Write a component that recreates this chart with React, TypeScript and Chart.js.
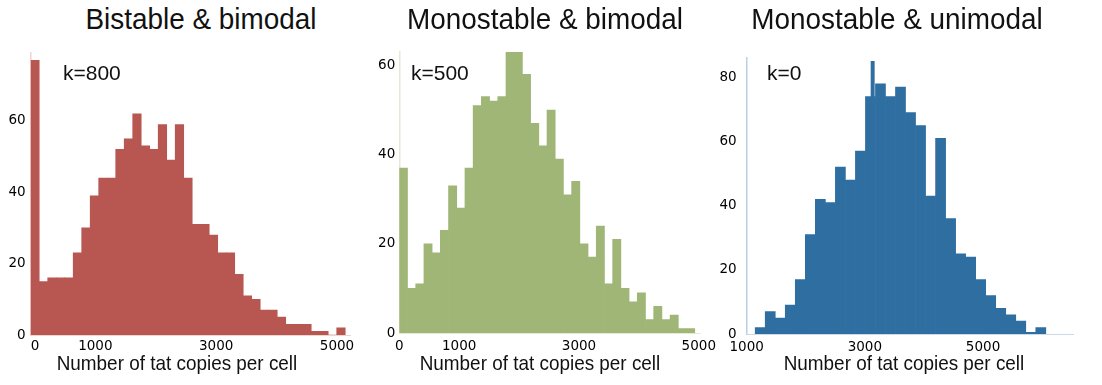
import React, { useEffect, useRef } from 'react';
import { Chart, registerables } from 'chart.js';

Chart.register(...registerables);

// ---------- text ----------
const panelTitles = ['Bistable & bimodal', 'Monostable & bimodal', 'Monostable & unimodal'];
const kLabels = ['k=800', 'k=500', 'k=0'];
const xAxisTitle = 'Number of tat copies per cell';

// ---------- panel 1 : k=800 ----------
const counts800 = [77, 15, 16, 16, 16, 23, 30, 39, 44, 44, 52, 55, 62, 53, 52, 59, 49, 59, 44, 31, 31, 28, 23, 23, 17, 11, 10, 7, 7, 5, 3, 3, 3, 1, 1, 0, 2];
const binStart800 = -70;
const binWidth800 = 140.7;
const xTicks800 = [0, 1000, 3000, 5000];
const yTicks800 = [0, 20, 40, 60];

// ---------- panel 2 : k=500 ----------
const counts500 = [37, 10, 11, 20, 18, 23, 33, 28, 37, 51, 53, 52, 53, 63, 63, 58, 47, 42, 50, 39, 31, 34, 20, 17, 24, 11, 21, 10, 7, 9, 3, 6, 3, 4, 1, 1];
const binStart500 = 0;
const binWidth500 = 137;
const xTicks500 = [0, 1000, 3000, 5000];
const yTicks500 = [0, 20, 40, 60];

// ---------- panel 3 : k=0 ----------
const counts0 = [2, 7, 5, 9, 17, 31, 42, 41, 52, 48, 57, 74, 78, 74, 77, 69, 65, 43, 61, 36, 25, 24, 17, 12, 8, 6, 4, 0.5, 2];
const binStart0 = 1144;
const binWidth0 = 169.6;
const spikeX0 = [3132];
const spikeY0 = [85];
const xTicks0 = [1000, 3000, 5000];
const yTicks0 = [0, 20, 40, 60, 80];

type PanelProps = {
  left: number;
  width: number;
  counts: number[];
  binStart: number;
  binWidth: number;
  spikeX?: number[];
  spikeY?: number[];
  xMin: number;
  xMax: number;
  yMax: number;
  xTicks: number[];
  yTicks: number[];
  color: string;
  yAxisColor: string;
  xAxisColor: string;
  yWidth: number;
  padRight: number;
  xHeight: number;
  yTickPad: number;
  xTickPad: number;
};

const TOP = 40;
const HEIGHT = 320;
const tickFont = { family: "'DejaVu Sans', sans-serif", size: 13.5 };

function HistPanel(p: PanelProps) {
  const ref = useRef<HTMLCanvasElement>(null);
  useEffect(() => {
    if (!ref.current) return;
    const centers = p.counts.map((_, i) => p.binStart + (i + 0.5) * p.binWidth);
    const datasets: any[] = [
      {
        data: p.counts.map((c, i) => ({ x: centers[i], y: c })),
        backgroundColor: p.color,
        borderWidth: 0,
        barPercentage: 1,
        categoryPercentage: 1,
        grouped: false,
        xAxisID: 'x',
        yAxisID: 'y',
      },
    ];
    if (p.spikeX && p.spikeY) {
      datasets.push({
        data: p.spikeX.map((x, i) => ({ x, y: p.spikeY![i] })),
        backgroundColor: p.color,
        borderWidth: 0,
        barThickness: 3.3,
        grouped: false,
        xAxisID: 'x2',
        yAxisID: 'y',
      });
    }
    const chart = new Chart(ref.current, {
      type: 'bar',
      data: { datasets },
      options: {
        animation: false,
        responsive: false,
        events: [],
        layout: { padding: { left: 0, top: 8.3, right: p.padRight, bottom: 0 } },
        plugins: { legend: { display: false }, tooltip: { enabled: false }, title: { display: false } },
        scales: {
          x: {
            type: 'linear',
            min: p.xMin,
            max: p.xMax,
            offset: false,
            grid: { display: false, drawTicks: false },
            border: { display: true, color: p.xAxisColor, width: 1 },
            afterBuildTicks: (s: any) => {
              s.ticks = p.xTicks.map((v) => ({ value: v }));
            },
            afterFit: (s: any) => {
              s.height = p.xHeight;
            },
            ticks: {
              autoSkip: false,
              maxRotation: 0,
              minRotation: 0,
              padding: p.xTickPad,
              font: tickFont,
              color: '#000',
              callback: (v: any) => String(v),
            },
          },
          x2: {
            type: 'linear',
            display: false,
            min: p.xMin,
            max: p.xMax,
            offset: false,
          },
          y: {
            type: 'linear',
            min: 0,
            max: p.yMax,
            grid: { display: false, drawTicks: false },
            border: { display: true, color: p.yAxisColor, width: 1.5 },
            afterBuildTicks: (s: any) => {
              s.ticks = p.yTicks.map((v) => ({ value: v }));
            },
            afterFit: (s: any) => {
              s.width = p.yWidth;
            },
            ticks: {
              padding: p.yTickPad,
              font: tickFont,
              color: '#000',
              callback: (v: any) => String(v),
            },
          },
        },
      } as any,
    });
    return () => chart.destroy();
  }, []);
  return (
    <canvas
      ref={ref}
      width={p.width}
      height={HEIGHT}
      style={{ position: 'absolute', left: p.left, top: TOP, width: p.width, height: HEIGHT }}
    />
  );
}

const textBase: React.CSSProperties = {
  position: 'absolute',
  fontFamily: "'Liberation Sans', Arial, sans-serif",
  color: '#111',
  whiteSpace: 'nowrap',
};

export default function App() {
  const titleCenters = [201, 545, 897];
  const axisCenters = [177, 540, 904];
  const kLefts = [63, 411, 767];
  return (
    <div style={{ position: 'absolute', left: 0, top: 0, width: 1102, height: 385, background: '#fff', overflow: 'hidden' }}>
      <HistPanel
        left={0}
        width={380}
        counts={counts800}
        binStart={binStart800}
        binWidth={binWidth800}
        xMin={-70}
        xMax={5215}
        yMax={79}
        xTicks={xTicks800}
        yTicks={yTicks800}
        color="#B85751"
        yAxisColor="#EDD3D2"
        xAxisColor="#EDD3D2"
        yWidth={30.7}
        padRight={30}
        xHeight={25}
        yTickPad={5}
        xTickPad={3}
      />
      <HistPanel
        left={370}
        width={360}
        counts={counts500}
        binStart={binStart500}
        binWidth={binWidth500}
        xMin={0}
        xMax={5020}
        yMax={63}
        xTicks={xTicks500}
        yTicks={yTicks500}
        color="#A0B677"
        yAxisColor="#E3EAD6"
        xAxisColor="#E3EAD6"
        yWidth={29.3}
        padRight={30}
        xHeight={27}
        yTickPad={4}
        xTickPad={5}
      />
      <HistPanel
        left={710}
        width={392}
        counts={counts0}
        binStart={binStart0}
        binWidth={binWidth0}
        spikeX={spikeX0}
        spikeY={spikeY0}
        xMin={1000}
        xMax={6531}
        yMax={86}
        xTicks={xTicks0}
        yTicks={yTicks0}
        color="#2F6EA1"
        yAxisColor="#B9CFE2"
        xAxisColor="#C9DAEA"
        yWidth={36.7}
        padRight={28.5}
        xHeight={26}
        yTickPad={10}
        xTickPad={5}
      />
      {panelTitles.map((t, i) => (
        <div
          key={'t' + i}
          style={{
            ...textBase,
            left: titleCenters[i] - 200,
            width: 400,
            textAlign: 'center',
            top: 4,
            fontSize: 30,
            lineHeight: '30px',
            transform: 'scaleX(0.93)',
          }}
        >
          {t}
        </div>
      ))}
      {kLabels.map((t, i) => (
        <div key={'k' + i} style={{ ...textBase, left: kLefts[i], top: 62, fontSize: 21, lineHeight: '21px' }}>
          {t}
        </div>
      ))}
      {axisCenters.map((c, i) => (
        <div
          key={'a' + i}
          style={{
            ...textBase,
            left: c - 160,
            width: 320,
            textAlign: 'center',
            top: 352,
            fontSize: 21,
            lineHeight: '21px',
            transform: 'scaleX(0.9)',
          }}
        >
          {xAxisTitle}
        </div>
      ))}
    </div>
  );
}
